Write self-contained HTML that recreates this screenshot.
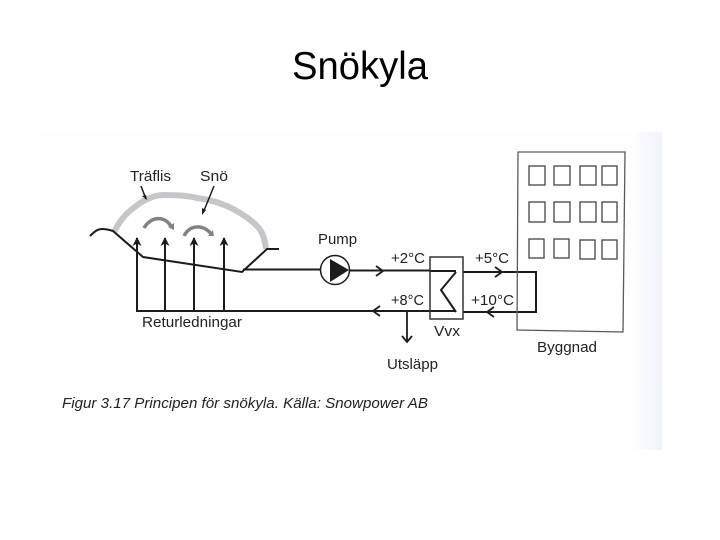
<!DOCTYPE html>
<html><head><meta charset="utf-8"><style>html,body{margin:0;padding:0;background:#fff;width:720px;height:540px;overflow:hidden}svg{display:block}text{font-family:"Liberation Sans",sans-serif;fill:#222}</style></head><body>
<svg width="720" height="540" viewBox="0 0 720 540" xmlns="http://www.w3.org/2000/svg">
<defs><linearGradient id="g" x1="0" x2="1" y1="0" y2="0"><stop offset="0" stop-color="#fefeff"/><stop offset="1" stop-color="#f0f2fc"/></linearGradient></defs>
<rect x="33" y="132" width="600" height="318" fill="#fefefe"/>
<rect x="633" y="132" width="29" height="318" fill="url(#g)"/>
<text x="292" y="79" font-size="39" textLength="136" lengthAdjust="spacingAndGlyphs" style="fill:#000">Snökyla</text>

<path d="M114,232C120,220 127,211 145,200C152,197 157,195 163,195C178,195 190,196 197,198C212,200 220,203 227,206C240,212 250,219 257,226C263,232 265,240 266,249" fill="none" stroke="#c4c6ca" stroke-width="6"/>
<path d="M90,236C95,231 98,229 102,229C106,229 110,230 113,231L143,257L242,272L267,249H279" fill="none" stroke="#1c1c1c" stroke-width="2"/>
<path d="M243,269.500H320M350,270.500H430M463,272H536V312H463M430,311H137V238M165,310V238M194,310V238M224,310V238M430,271H456M430,311H456" fill="none" stroke="#1c1c1c" stroke-width="2"/>
<g fill="#1c1c1c"><path d="M137,237l-4.500,9 4.500,-2.500 4.500,2.500z"/><path d="M165,237l-4.500,9 4.500,-2.500 4.500,2.500z"/><path d="M194,237l-4.500,9 4.500,-2.500 4.500,2.500z"/><path d="M224,237l-4.500,9 4.500,-2.500 4.500,2.500z"/></g>
<path d="M144,228C150,217 165,214 172,228" fill="none" stroke="#808285" stroke-width="3.500"/>
<path d="M168,227l6,3 0,-7z" fill="#808285"/>
<path d="M184,236C190,224 204,224 212,235" fill="none" stroke="#808285" stroke-width="3.500"/>
<path d="M208,236l6,0 -1,-6z" fill="#808285"/>
<path d="M141,186L146,199M214,186L203,213" stroke="#1c1c1c" stroke-width="1.500"/>
<path d="M147,200l-5,-4 4,-1zM202,215l0,-7 4,2z" fill="#1c1c1c"/>

<circle cx="335" cy="270" r="14.500" fill="#fff" stroke="#1c1c1c" stroke-width="1.500"/>
<path d="M330,259L349,270L330,282z" fill="#1c1c1c"/>

<rect x="430" y="257" width="33" height="62" fill="none" stroke="#333" stroke-width="1.500"/>
<path d="M456,272L441,290L456,312" fill="none" stroke="#1c1c1c" stroke-width="2"/>
<path d="M376,266L383,271L376,276M495,267L502,272L495,277M380,306L373,311L380,316M494,307L487,312L494,317" fill="none" stroke="#1c1c1c" stroke-width="1.800"/>
<path d="M407,311V342" stroke="#1c1c1c" stroke-width="1.800"/>
<path d="M402,336L407,342L412,336" fill="none" stroke="#1c1c1c" stroke-width="1.800"/>

<path d="M518,152L625,152L623,332L517,330z" fill="none" stroke="#5a5a5a" stroke-width="1.300"/>
<g fill="none" stroke="#444" stroke-width="1.300">
<rect x="529" y="166" width="16" height="19"/><rect x="554" y="166" width="16" height="19"/><rect x="580" y="166" width="16" height="19"/><rect x="602" y="166" width="15" height="19"/>
<rect x="529" y="202" width="16" height="20"/><rect x="554" y="202" width="16" height="20"/><rect x="580" y="202" width="16" height="20"/><rect x="602" y="202" width="15" height="20"/>
<rect x="529" y="239" width="15" height="19"/><rect x="554" y="239" width="15" height="19"/><rect x="580" y="240" width="15" height="19"/><rect x="602" y="240" width="15" height="19"/>
</g>

<g font-size="15">
<text x="130" y="181" textLength="41" lengthAdjust="spacingAndGlyphs">Träflis</text>
<text x="200" y="181" textLength="28" lengthAdjust="spacingAndGlyphs">Snö</text>
<text x="142" y="327" textLength="100" lengthAdjust="spacingAndGlyphs">Returledningar</text>
<text x="318" y="244" textLength="39" lengthAdjust="spacingAndGlyphs">Pump</text>
<text x="391" y="263" textLength="34" lengthAdjust="spacingAndGlyphs">+2°C</text>
<text x="475" y="263" textLength="34" lengthAdjust="spacingAndGlyphs">+5°C</text>
<text x="391" y="305" textLength="33" lengthAdjust="spacingAndGlyphs">+8°C</text>
<text x="471" y="305" textLength="43" lengthAdjust="spacingAndGlyphs">+10°C</text>
<text x="434" y="336" textLength="26" lengthAdjust="spacingAndGlyphs">Vvx</text>
<text x="387" y="369" textLength="51" lengthAdjust="spacingAndGlyphs">Utsläpp</text>
<text x="537" y="352" textLength="60" lengthAdjust="spacingAndGlyphs">Byggnad</text>
</g>
<text x="62" y="408" font-size="14.500" font-style="italic" textLength="366" lengthAdjust="spacingAndGlyphs">Figur 3.17 Principen för snökyla. Källa: Snowpower AB</text>
</svg>
</body></html>
